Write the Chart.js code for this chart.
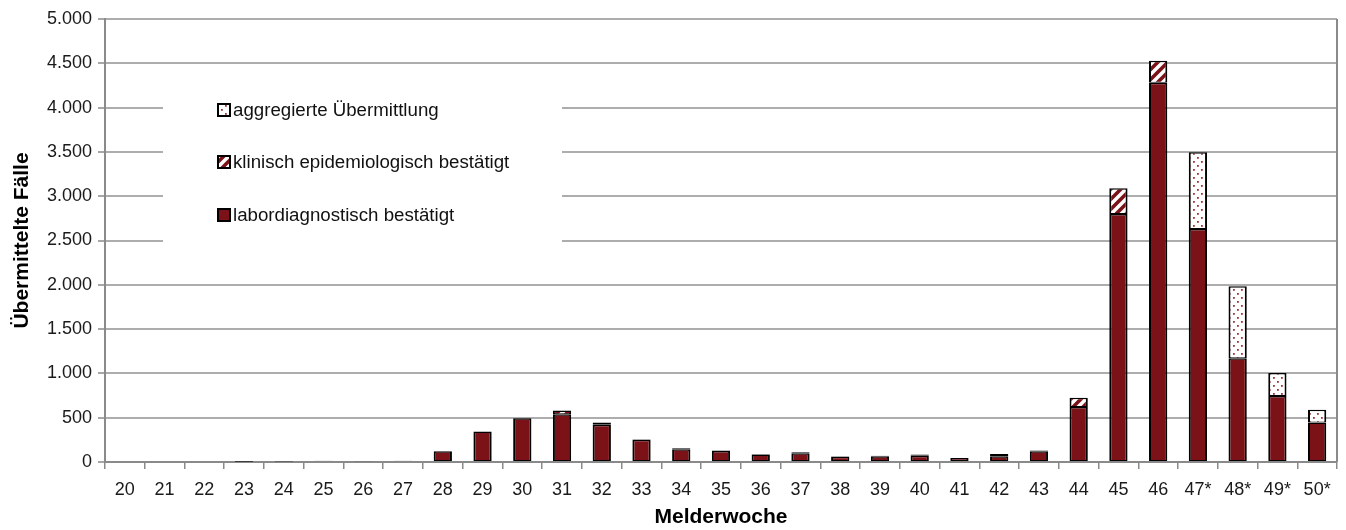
<!DOCTYPE html>
<html>
<head>
<meta charset="utf-8">
<script src="https://cdn.jsdelivr.net/npm/chart.js@4/dist/chart.umd.min.js"></script>
<style>
  html, body { margin: 0; padding: 0; background: #fff; }
  #wrap { width: 1346px; height: 530px; }
</style>
</head>
<body>
<div id="wrap"><canvas id="c" width="1346" height="530"></canvas></div>
<script>
const weeks = ['20', '21', '22', '23', '24', '25', '26', '27', '28', '29', '30', '31', '32', '33', '34', '35',
    '36', '37', '38', '39', '40', '41', '42', '43', '44', '45', '46', '47*', '48*', '49*', '50*']

const labor = [0, 0, 0, 4, 6, 15, 8, 15, 120, 345, 495, 540, 420, 250, 145, 125,
    85, 100, 60, 65, 70, 45, 65, 120, 620, 2800, 4280, 2630, 1170, 745, 445]
const klinisch = [0, 0, 0, 0, 0, 0, 0, 0, 0, 0, 0, 40, 25, 8, 10, 5,
    5, 10, 5, 5, 15, 0, 25, 10, 105, 290, 250, 0, 0, 0, 0]
const aggregiert = [0, 0, 0, 0, 0, 0, 0, 0, 0, 0, 0, 0, 0, 0, 0, 0,
    0, 0, 0, 0, 0, 0, 0, 0, 0, 0, 0, 865, 815, 260, 145]

const yTicks = [0, 500, 1000, 1500, 2000, 2500, 3000, 3500, 4000, 4500, 5000]

const darkRed = '#7b1217'
const gridGray = '#adadad'
const axisGray = '#8a8a8a'
const fontFam = "'Liberation Sans', Arial, sans-serif"

// hatch pattern for klinisch-epidemiologisch
const makeStripes = () => {
    const c = document.createElement('canvas')
    c.width = 10
    c.height = 10
    const g = c.getContext('2d')
    g.fillStyle = '#fff'
    g.fillRect(0, 0, 10, 10)
    g.strokeStyle = darkRed
    g.lineWidth = 3.6
    g.beginPath()
    g.moveTo(-2, 12); g.lineTo(12, -2)
    g.moveTo(-7, 7); g.lineTo(7, -7)
    g.moveTo(3, 17); g.lineTo(17, 3)
    g.stroke()
    return g.createPattern(c, 'repeat')
}

// dotted pattern for aggregierte Übermittlung
const makeDots = () => {
    const c = document.createElement('canvas')
    c.width = 8
    c.height = 8
    const g = c.getContext('2d')
    g.fillStyle = '#fff'
    g.fillRect(0, 0, 8, 8)
    g.fillStyle = '#a0343a'
    g.fillRect(1, 1, 1.8, 1.8)
    g.fillRect(5, 5, 1.8, 1.8)
    return g.createPattern(c, 'repeat')
}

const stripes = makeStripes()
const dots = makeDots()

const fmt = v => String(v).replace(/\B(?=(\d{3})+(?!\d))/g, '.')

// legend drawn inside the plot on a white box, reversed order
const boxLegend = {
    id: 'boxLegend',
    afterDatasetsDraw(chart) {
        const ctx = chart.ctx
        const area = chart.chartArea
        ctx.save()
        ctx.fillStyle = '#fff'
        ctx.fillRect(163, 72, 399, 186)
        // right border of plot
        ctx.strokeStyle = axisGray
        ctx.lineWidth = 2
        ctx.beginPath()
        ctx.moveTo(area.right, area.top)
        ctx.lineTo(area.right, area.bottom)
        ctx.stroke()

        const rows = [110, 162, 215]
        const sets = chart.data.datasets.slice().reverse()
        ctx.font = '18.7px ' + fontFam
        ctx.textBaseline = 'middle'
        sets.forEach((ds, i) => {
            const y = rows[i]
            ctx.fillStyle = ds.backgroundColor
            ctx.fillRect(218, y - 6, 12, 12)
            ctx.strokeStyle = '#000'
            ctx.lineWidth = 2
            ctx.strokeRect(218, y - 6, 12, 12)
            ctx.fillStyle = '#111'
            ctx.fillText(ds.label, 233, y + 1)
        })
        ctx.restore()
    },
}

const barCommon = {
    borderColor: '#000',
    borderWidth: ctx => (ctx.raw ? { top: 1.5, bottom: 1, left: 2, right: 2 } : 0),
    borderSkipped: false,
    barPercentage: 0.46,
    categoryPercentage: 1,
}

new Chart(document.getElementById('c').getContext('2d'), {
    type: 'bar',
    plugins: [boxLegend],
    data: {
        labels: weeks,
        datasets: [
            { label: 'labordiagnostisch bestätigt', data: labor, backgroundColor: darkRed, ...barCommon },
            { label: 'klinisch epidemiologisch bestätigt', data: klinisch, backgroundColor: stripes, ...barCommon },
            { label: 'aggregierte Übermittlung', data: aggregiert, backgroundColor: dots, ...barCommon },
        ],
    },
    options: {
        responsive: false,
        animation: false,
        events: [],
        layout: { padding: { top: 19, right: 9, left: 0, bottom: 0 } },
        plugins: {
            legend: { display: false },
            tooltip: { enabled: false },
        },
        scales: {
            x: {
                stacked: true,
                afterFit: s => { s.height = 68 },
                grid: {
                    offset: true,
                    drawOnChartArea: false,
                    tickLength: 7,
                    color: axisGray,
                    lineWidth: 1.5,
                },
                border: { color: axisGray, width: 2 },
                ticks: {
                    font: { family: fontFam, size: 18 },
                    color: '#1a1a1a',
                    padding: 10,
                    maxRotation: 0,
                    autoSkip: false,
                },
                title: {
                    display: true,
                    text: 'Melderwoche',
                    font: { family: fontFam, size: 21, weight: 'bold' },
                    color: '#000',
                    padding: { top: 0, bottom: 0 },
                },
            },
            y: {
                stacked: true,
                min: 0,
                max: 5000,
                afterFit: s => { s.width = 105 },
                afterBuildTicks: s => { s.ticks = yTicks.map(v => ({ value: v })) },
                grid: {
                    color: gridGray,
                    lineWidth: 2,
                    tickLength: 7,
                    tickColor: axisGray,
                    tickWidth: 1.5,
                },
                border: { color: axisGray, width: 2 },
                ticks: {
                    font: { family: fontFam, size: 18 },
                    color: '#1a1a1a',
                    padding: 6,
                    callback: v => fmt(v),
                },
                title: {
                    display: true,
                    text: 'Übermittelte Fälle',
                    font: { family: fontFam, size: 21, weight: 'bold' },
                    color: '#000',
                    padding: { top: 10, bottom: 0 },
                },
            },
        },
    },
})
</script>
</body>
</html>
